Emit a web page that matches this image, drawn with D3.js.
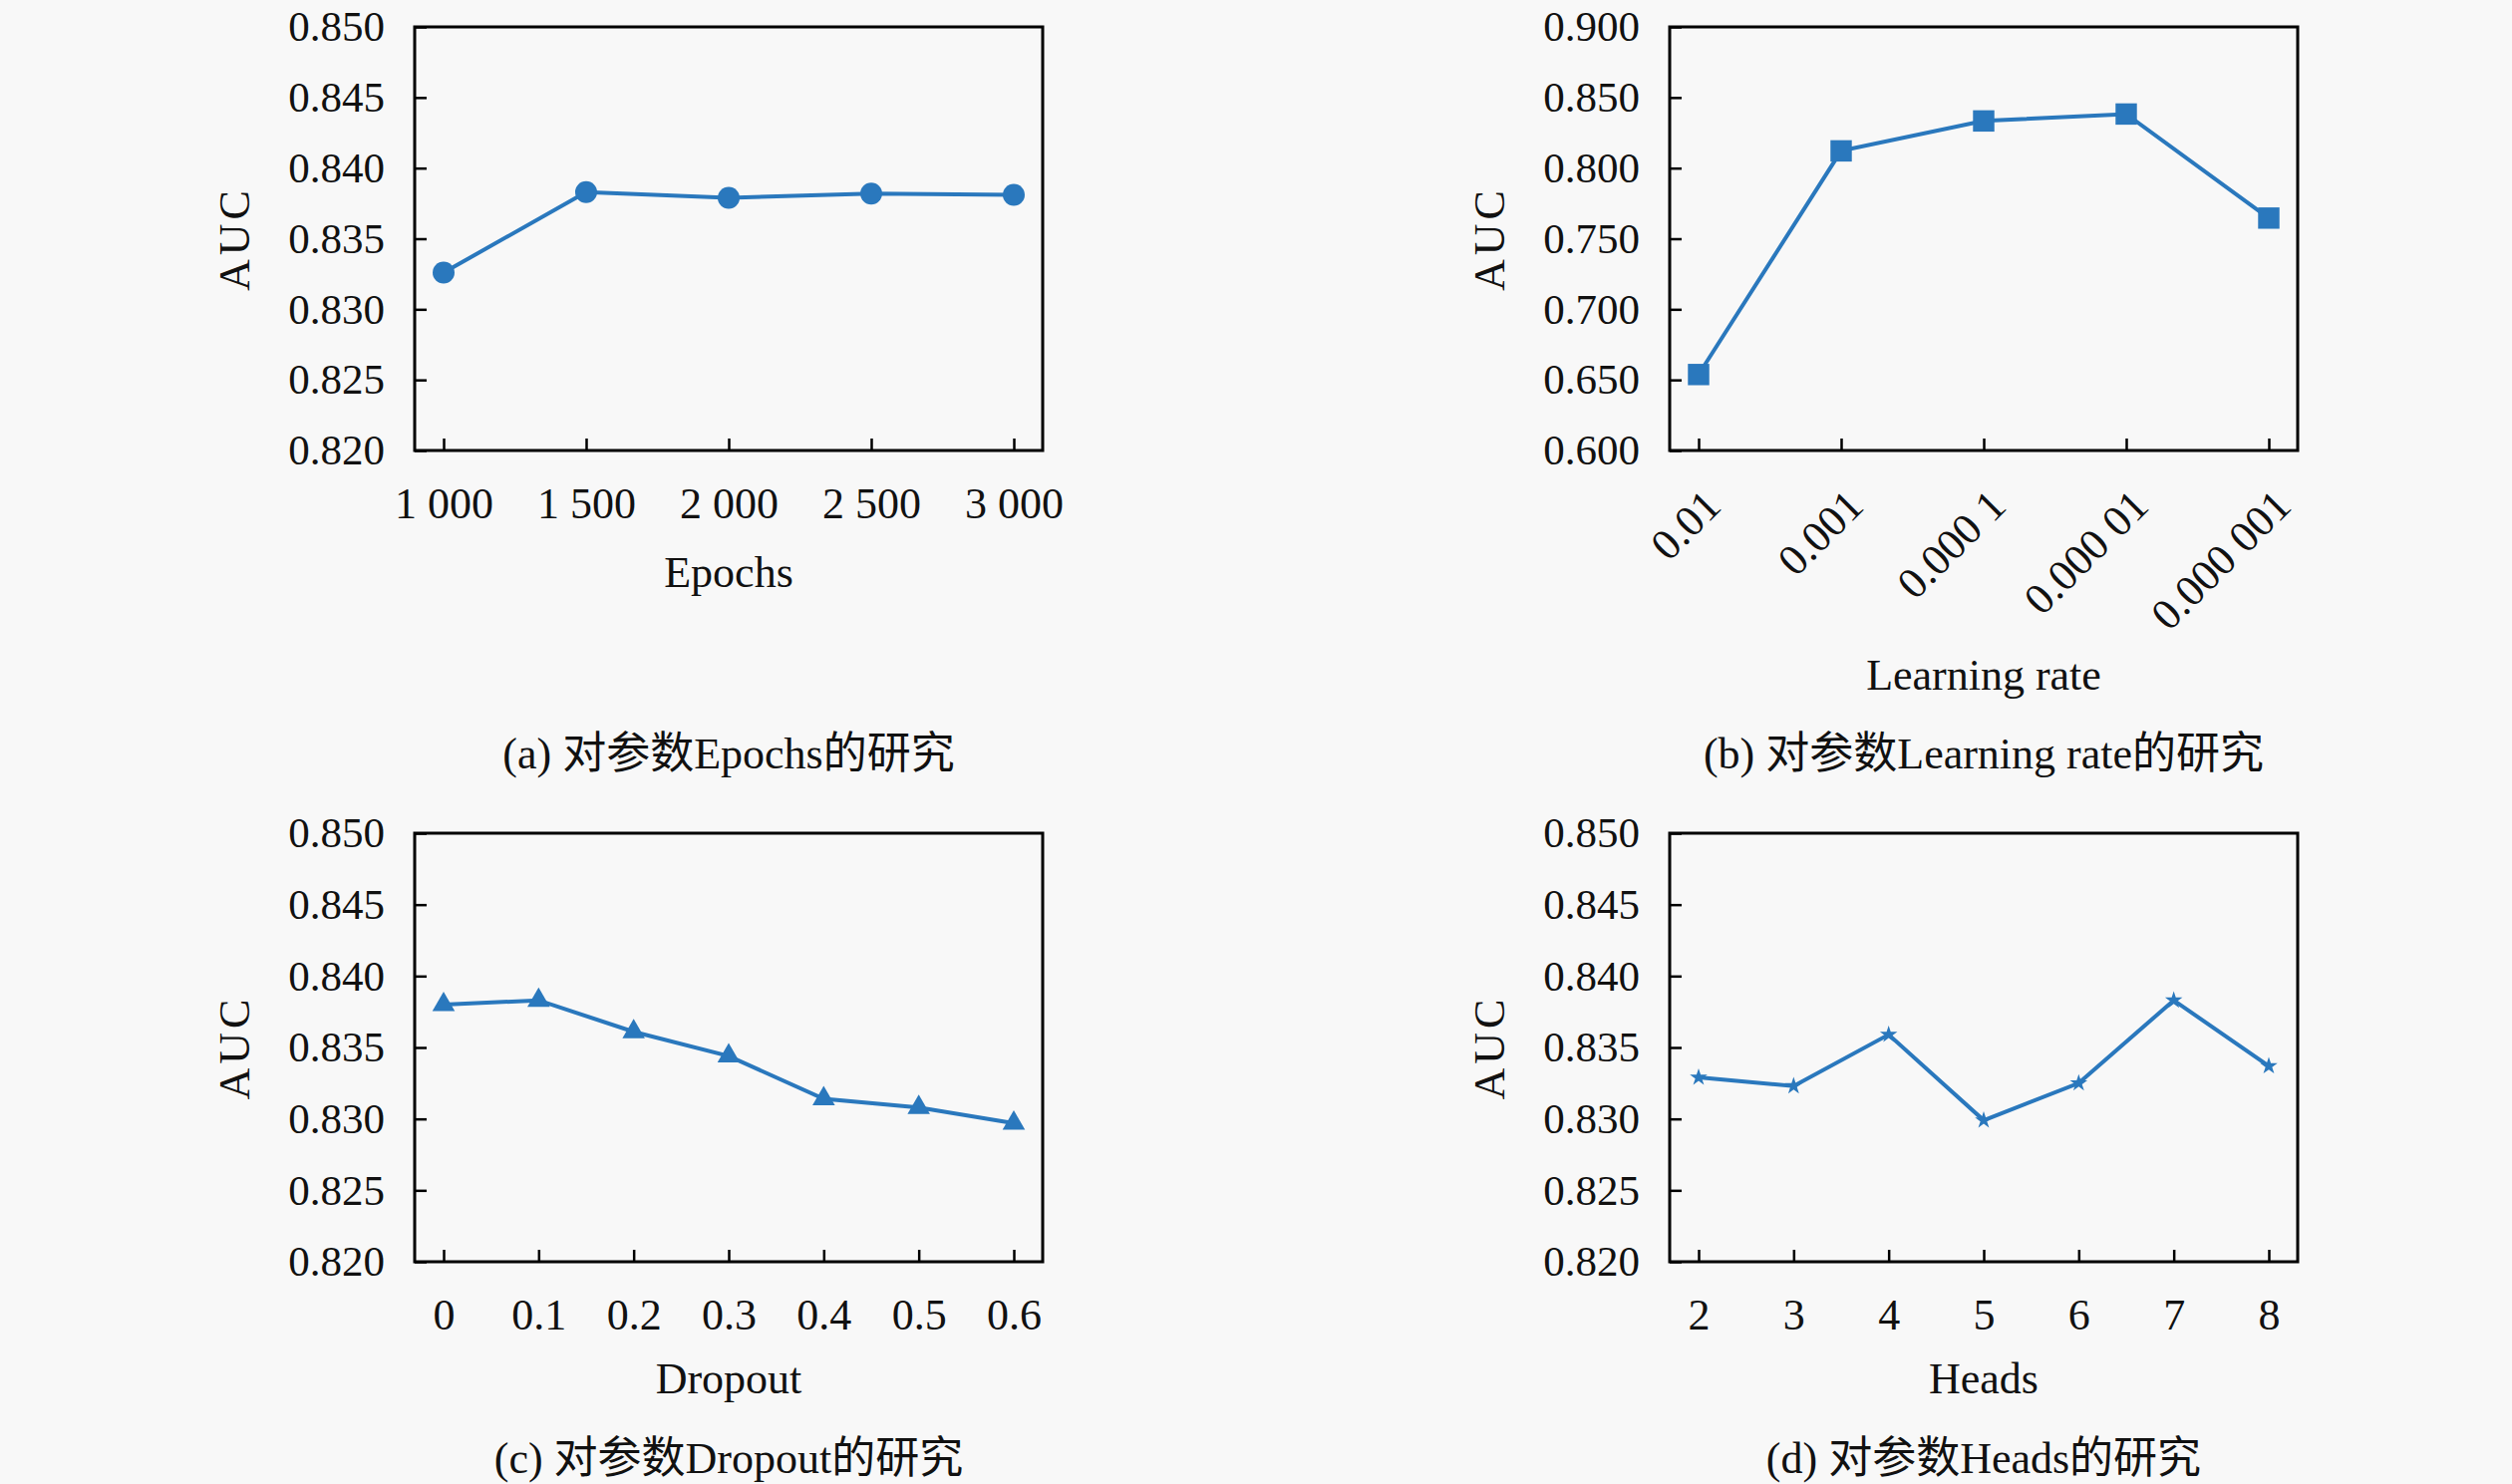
<!DOCTYPE html>
<html>
<head>
<meta charset="utf-8">
<script src="https://cdn.jsdelivr.net/npm/d3@7"></script>
<style>
  body { margin: 0; background: #f8f8f8; }
  svg text { font-family: "Liberation Serif", "DejaVu Serif", "Noto Sans CJK SC", serif; fill: #111; }
</style>
</head>
<body>
<div id="chart"></div>
<script>
// data
var epochs = ["1 000", "1 500", "2 000", "2 500", "3 000"];
var aucEpochs = [0.8326, 0.8383, 0.8379, 0.8382, 0.8381];

var learningRates = ["0.01", "0.001", "0.000 1", "0.000 01", "0.000 001"];
var aucLearningRate = [0.6538, 0.8122, 0.8334, 0.8383, 0.7646];

var dropouts = ["0", "0.1", "0.2", "0.3", "0.4", "0.5", "0.6"];
var aucDropout = [0.8380, 0.8383, 0.8361, 0.8344, 0.8314, 0.8308, 0.8297];

var heads = ["2", "3", "4", "5", "6", "7", "8"];
var aucHeads = [0.8329, 0.8323, 0.8359, 0.8299, 0.8325, 0.8383, 0.8337];

var yTicksSmall = [0.820, 0.825, 0.830, 0.835, 0.840, 0.845, 0.850];
var yTicksLr = [0.600, 0.650, 0.700, 0.750, 0.800, 0.850, 0.900];

var color = "#2a78bd";
var W = 2520, H = 1489;
var svg = d3.select("#chart").append("svg")
    .attr("width", W).attr("height", H);

function panel(opt) {
    var w = 630, h = opt.h;
    var g = svg.append("g")
        .attr("transform", "translate(" + opt.left + "," + opt.top + ")");

    var x = d3.scalePoint().domain(opt.cats).range([29, w - 29]);
    var y = d3.scaleLinear().domain(opt.yDomain).range([h, 0]);

    // y axis, ticks pointing inward
    var ya = g.append("g")
        .call(d3.axisLeft(y).tickValues(opt.yTicks).tickFormat(d3.format(".3f"))
            .tickSize(-12).tickPadding(30));
    ya.select(".domain").remove();
    ya.selectAll("line").attr("stroke", "#000").attr("stroke-width", 2.5);
    ya.selectAll("text").attr("font-size", 43);

    var xa = g.append("g").attr("transform", "translate(0," + h + ")")
        .call(d3.axisBottom(x).tickSize(-12).tickPadding(37));
    xa.select(".domain").remove();
    xa.selectAll("line").attr("stroke", "#000").attr("stroke-width", 2.5);
    xa.selectAll("text").attr("font-size", 44);
    if (opt.rotate) {
        xa.selectAll("text")
            .attr("y", 0).attr("dy", 0)
            .attr("text-anchor", "end")
            .attr("transform", "translate(24,58) rotate(-45)");
    }

    // frame
    g.append("rect").attr("width", w).attr("height", h)
        .attr("fill", "none").attr("stroke", "#000").attr("stroke-width", 3);

    var pts = opt.cats.map(function(c, i) { return [c, opt.values[i]]; });

    g.append("path").datum(pts)
        .attr("fill", "none").attr("stroke", color).attr("stroke-width", 4)
        .attr("d", d3.line()
            .x(function(d) { return x(d[0]); })
            .y(function(d) { return y(d[1]); }));

    g.selectAll(".mark").data(pts).enter().append("path")
        .attr("class", "mark")
        .attr("transform", function(d) { return "translate(" + x(d[0]) + "," + y(d[1]) + ")"; })
        .attr("d", d3.symbol().type(opt.symbol).size(opt.size))
        .attr("fill", color);

    g.append("text")
        .attr("transform", "translate(-181," + (h / 2) + ") rotate(-90)")
        .attr("text-anchor", "middle").attr("dy", "0.35em")
        .attr("font-size", 44).attr("letter-spacing", 4)
        .text("AUC");

    g.append("text")
        .attr("x", w / 2).attr("y", opt.labelY).attr("dy", "0.35em")
        .attr("text-anchor", "middle").attr("font-size", 44)
        .text(opt.xLabel);

    g.append("text")
        .attr("x", w / 2).attr("y", opt.captionY).attr("dy", "0.35em")
        .attr("text-anchor", "middle").attr("font-size", 44)
        .text(opt.caption);
}

panel({ left: 416, top: 27, h: 425, cats: epochs, values: aucEpochs,
    yDomain: [0.82, 0.85], yTicks: yTicksSmall, symbol: d3.symbolCircle, size: 380,
    xLabel: "Epochs", labelY: 547, caption: "(a) 对参数Epochs的研究", captionY: 729 });

panel({ left: 1675, top: 27, h: 425, cats: learningRates, values: aucLearningRate,
    yDomain: [0.6, 0.9], yTicks: yTicksLr, symbol: d3.symbolSquare, size: 460, rotate: true,
    xLabel: "Learning rate", labelY: 650, caption: "(b) 对参数Learning rate的研究", captionY: 729 });

panel({ left: 416, top: 836, h: 430, cats: dropouts, values: aucDropout,
    yDomain: [0.82, 0.85], yTicks: yTicksSmall, symbol: d3.symbolTriangle, size: 220,
    xLabel: "Dropout", labelY: 547, caption: "(c) 对参数Dropout的研究", captionY: 627 });

panel({ left: 1675, top: 836, h: 430, cats: heads, values: aucHeads,
    yDomain: [0.82, 0.85], yTicks: yTicksSmall, symbol: d3.symbolStar, size: 95,
    xLabel: "Heads", labelY: 547, caption: "(d) 对参数Heads的研究", captionY: 627 });
</script>
</body>
</html>
